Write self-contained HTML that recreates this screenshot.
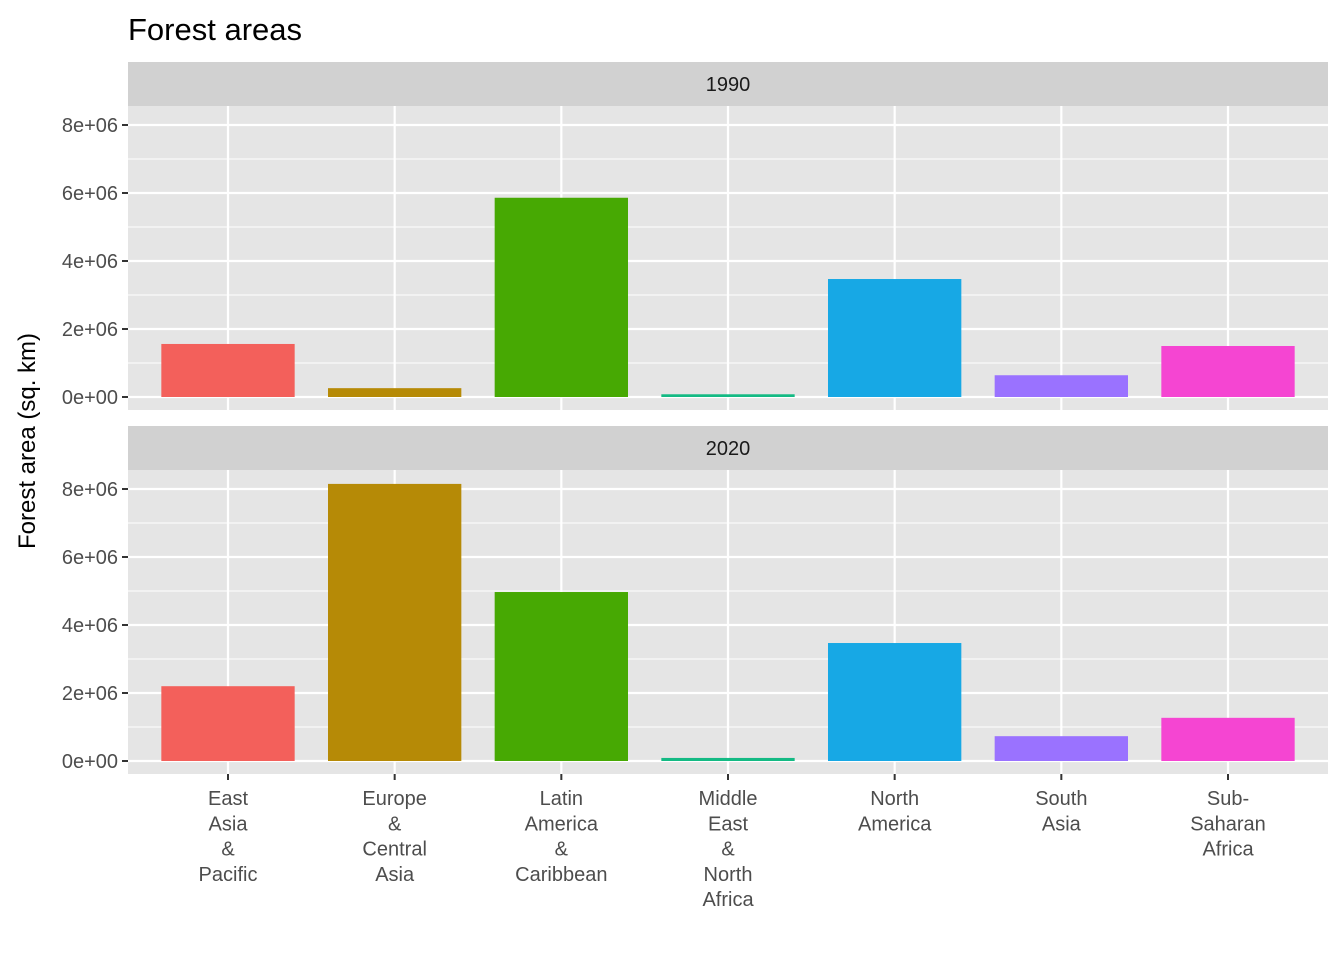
<!DOCTYPE html>
<html><head><meta charset="utf-8"><style>
body{margin:0;background:#fff;font-family:"Liberation Sans",Arial,sans-serif}
svg text{font-family:"Liberation Sans",Arial,sans-serif}
</style></head><body>
<svg id="c" width="1344" height="960"></svg>
<script>
const categories=["East\nAsia\n&\nPacific","Europe\n&\nCentral\nAsia","Latin\nAmerica\n&\nCaribbean","Middle\nEast\n&\nNorth\nAfrica","North\nAmerica","South\nAsia","Sub-\nSaharan\nAfrica"];
const values1990=[1.56e6,0.26e6,5.86e6,0.08e6,3.47e6,0.64e6,1.50e6];
const values2020=[2.20e6,8.15e6,4.97e6,0.09e6,3.47e6,0.73e6,1.27e6];
const yTicks=[0,2e6,4e6,6e6,8e6];
const yTickLabels=["0e+00","2e+06","4e+06","6e+06","8e+06"];
const panels=["1990","2020"];
const colors=["#F3605B","#B68A06","#47A903","#14BA84","#17A8E5","#9A72FF","#F545D2"];
const NS="http://www.w3.org/2000/svg";
const svg=document.getElementById('c');
function el(t,a,p){const e=document.createElementNS(NS,t);for(const k in a)e.setAttribute(k,a[k]);(p||svg).appendChild(e);return e;}
const L=128,R=1328,n=categories.length,unit=(R-L)/(n-1+1.2);
const xc=i=>L+unit*(i+0.6);
const bw=unit*0.8;
const t=el('text',{x:128,y:40,'font-size':31,fill:'#000'});t.textContent="Forest areas";

const yt=el('text',{x:0,y:0,'font-size':24,fill:'#000','text-anchor':'middle',transform:'translate(35,441) rotate(-90)'});yt.textContent="Forest area (sq. km)";

const tops=[106,470];
const data=[values1990,values2020];
panels.forEach((p,pi)=>{
  const top=tops[pi],bot=top+304,stripTop=top-44;
  const y=v=>(top+291)-v*(272/8e6);
  const g=el('g',{});
  const s=el('rect',{x:L,y:stripTop,width:R-L,height:44,fill:'#D1D1D1'},g);
  
  const st=el('text',{x:(L+R)/2,y:stripTop+29,'font-size':20,fill:'#1A1A1A','text-anchor':'middle'},g);st.textContent=p;
  
  const bg=el('rect',{x:L,y:top,width:R-L,height:304,fill:'#E5E5E5'},g);
  
  for(let k=0;k<yTicks.length-1;k++){const ym=y((yTicks[k]+yTicks[k+1])/2);el('line',{x1:L,x2:R,y1:ym,y2:ym,stroke:'#fff','stroke-width':1.1},g);}
  yTicks.forEach((v,k)=>{const yy=y(v);
    const gl=el('line',{x1:L,x2:R,y1:yy,y2:yy,stroke:'#fff','stroke-width':2.2},g);
    
    el('line',{x1:L-6,x2:L,y1:yy,y2:yy,stroke:'#333','stroke-width':2},g);
    const tl=el('text',{x:L-10,y:yy+7,'font-size':20,fill:'#4D4D4D','text-anchor':'end'},g);tl.textContent=yTickLabels[k];
    });
  categories.forEach((c,i)=>{el('line',{x1:xc(i),x2:xc(i),y1:top,y2:bot,stroke:'#fff','stroke-width':2.2},g);});
  data[pi].forEach((v,i)=>{
    const b=el('rect',{x:xc(i)-bw/2,y:y(v),width:bw,height:y(0)-y(v),fill:colors[i]},g);
    });
  if(pi==1){categories.forEach((c,i)=>{
    el('line',{x1:xc(i),x2:xc(i),y1:bot,y2:bot+6,stroke:'#333','stroke-width':2},g);
    const tx=el('text',{x:xc(i),y:bot+31,'font-size':20,fill:'#4D4D4D','text-anchor':'middle'},g);
    
    c.split("\n").forEach((ln,j)=>{const ts=el('tspan',{x:xc(i),dy:j?25.3:0},tx);ts.textContent=ln;});
  });}
});
</script>
</body></html>
